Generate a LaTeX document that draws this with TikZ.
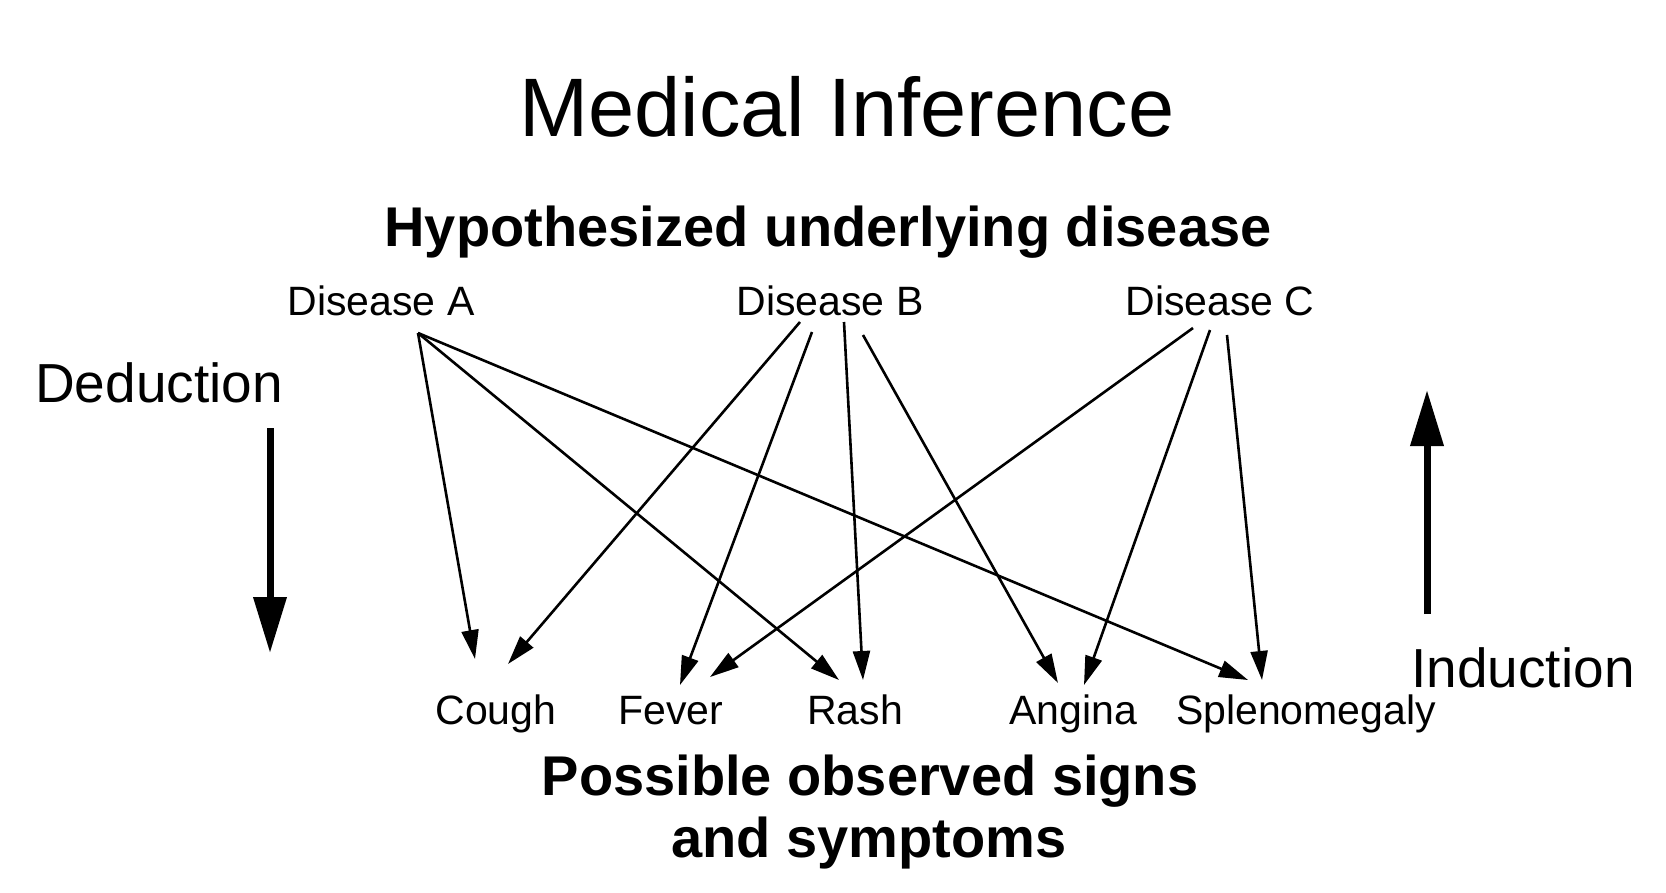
\documentclass[tikz,border=0pt]{standalone}
\usepackage{fontspec}
\setmainfont{Liberation Sans}
\usetikzlibrary{arrows.meta}
\tikzset{
  lbl/.style={anchor=base, inner sep=0pt, font=\fontsize{41}{45}\selectfont},
  bigtitle/.style={anchor=base, inner sep=0pt, font=\fontsize{83}{90}\selectfont},
  headline/.style={anchor=base, inner sep=0pt, font=\fontsize{56}{60}\selectfont\bfseries},
  dirlbl/.style={anchor=base, inner sep=0pt, font=\fontsize{55}{60}\selectfont},
  link/.style={line width=2.6pt, -{Triangle[length=29pt,width=17pt]}},
  bigarrow/.style={line width=7pt, -{Triangle[length=56pt,width=32pt]}},
}
\begin{document}
\begin{tikzpicture}[x=1pt,y=-1pt]
\useasboundingbox (0,0) rectangle (1666,892);
\fill[white] (0,0) rectangle (1666,892);
% texts
\node[bigtitle] (title) at (847,136) {Medical Inference};
\node[headline] (hyp) at (828,246) {Hypothesized underlying disease};
\node[lbl] (dA) at (381,315) {Disease A};
\node[lbl] (dB) at (830,315) {Disease B};
\node[lbl] (dC) at (1220,315) {Disease C};
\node[dirlbl, anchor=base west] (ded) at (35,402) {Deduction};
\node[dirlbl] (ind) at (1523,687) {Induction};
\node[lbl] (cough) at (496,724) {Cough};
\node[lbl] (fever) at (671,724) {Fever};
\node[lbl] (rash) at (855,724) {Rash};
\node[lbl] (angina) at (1073,724) {Angina};
\node[lbl] (splen) at (1306,724) {Splenomegaly};
\node[headline] (obs1) at (870,795) {Possible observed signs};
\node[headline] (obs2) at (869,857) {and symptoms};
% connector ends
\coordinate (a0) at (418,333);
\coordinate (b1) at (800,322);
\coordinate (b2) at (812,332);
\coordinate (b3) at (844,322);
\coordinate (b4) at (863,335);
\coordinate (c1) at (1193,328);
\coordinate (c2) at (1210,330);
\coordinate (c3) at (1227,335);
\coordinate (tCa) at (475,659);
\coordinate (tCb) at (508,664);
\coordinate (tFb) at (680,685);
\coordinate (tFc) at (710,677);
\coordinate (tRa) at (839,680);
\coordinate (tRb) at (863,680);
\coordinate (tAb) at (1058,683);
\coordinate (tAc) at (1084,685);
\coordinate (tSa) at (1248,680);
\coordinate (tSc) at (1262,680);
\draw[link] (a0) -- (tCa);
\draw[link] (a0) -- (tRa);
\draw[link] (a0) -- (tSa);
\draw[link] (b1) -- (tCb);
\draw[link] (b2) -- (tFb);
\draw[link] (b3) -- (tRb);
\draw[link] (b4) -- (tAb);
\draw[link] (c1) -- (tFc);
\draw[link] (c2) -- (tAc);
\draw[link] (c3) -- (tSc);
% big direction arrows
\coordinate (dTop) at (270,428);
\coordinate (dTip) at (270,653);
\coordinate (uBot) at (1427,614);
\coordinate (uTip) at (1427,390);
\draw[bigarrow] (dTop) -- (dTip);
\draw[bigarrow] (uBot) -- (uTip);
\end{tikzpicture}
\end{document}
